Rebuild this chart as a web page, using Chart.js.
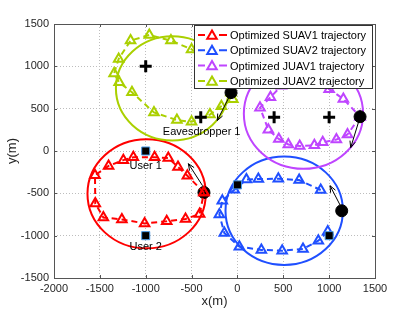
<!DOCTYPE html>
<html><head><meta charset="utf-8">
<script src="https://cdn.jsdelivr.net/npm/chart.js@4/dist/chart.umd.min.js"></script>
<style>html,body{margin:0;padding:0;background:#fff;}#wrap{width:415px;height:312px;position:relative;}</style>
</head><body><div id="wrap"><canvas id="c"></canvas></div>
<script>
// ---- data ----
const seriesNames = ['Optimized SUAV1 trajectory','Optimized SUAV2 trajectory','Optimized JUAV1 trajectory','Optimized JUAV2 trajectory'];
const seriesColors = ['#ff0000','#1f4fff','#bf45ff','#aad000'];

const suav1X = [-365,-546,-648,-754,-903,-1135,-1244,-1405,-1553,-1550,-1462,-1260,-1012,-771,-566,-412,-365];
const suav1Y = [-490,-292,-188,-83,-75,-75,-108,-176,-286,-620,-785,-808,-855,-830,-802,-745,-490];
const suav2X = [908,673,446,228,98,-35,-165,-197,-143,21,261,488,715,882,985];
const suav2Y = [-461,-343,-328,-331,-337,-459,-588,-751,-968,-1130,-1168,-1178,-1158,-1060,-950];
const juav1X = [1337,1200,1079,930,839,679,555,451,337,246,360,480,650,870,1000,1155,1337];
const juav1Y = [405,195,135,102,67,58,77,142,250,512,634,770,800,790,730,615,405];
const juav2X = [-70,-50,-175,-300,-500,-660,-910,-1150,-1290,-1345,-1295,-1165,-961,-725,-500,-300,-150,-70];
const juav2Y = [690,610,530,430,345,365,455,693,811,915,1088,1304,1370,1304,1200,1080,900,690];

const startX = [-365,1137,1337,-70];
const startY = [-490,-706,405,690];
const userX = [-1000,-1000,0,1000];
const userY = [0,-1000,-400,-1000];
const eveX = [-1000,-400,400,1000];
const eveY = [1000,400,400,400];

const circleCX = [-990,510,720,-710];
const circleCY = [-505,-705,440,740];
const circleR = [645,640,650,615];

const arrowFromX = [-380,1120,1320,-85];
const arrowFromY = [-410,-640,340,650];
const arrowToX = [-535,1010,1235,-220];
const arrowToY = [-150,-410,40,360];

const noteText = ['User 1','User 2','Eavesdropper 1'];
const noteX = [-1000,-1000,-390];
const noteY = [-175,-1130,220];

const xTicks = [-2000,-1500,-1000,-500,0,500,1000,1500];
const yTicks = [-1500,-1000,-500,0,500,1000,1500];

const FONT = "'Liberation Sans', Arial, sans-serif";
const pts = (xs, ys) => xs.map((v, i) => ({x: v, y: ys[i]}));

function traj(i, xs, ys, order) {
  return {
    label: seriesNames[i], data: pts(xs, ys), showLine: true, order: order,
    borderColor: seriesColors[i], borderWidth: 2, borderDash: [6, 4],
    pointStyle: 'triangle', pointRadius: 5.5, pointBorderWidth: 2,
    pointBorderColor: seriesColors[i], pointBackgroundColor: 'rgba(255,255,255,0)'
  };
}

function drawTri(ctx, x, y, r) {
  ctx.beginPath();
  for (let k = 0; k < 3; k++) {
    const a = k * 2 * Math.PI / 3;
    const px = x + Math.sin(a) * r, py = y - Math.cos(a) * r;
    if (k === 0) ctx.moveTo(px, py); else ctx.lineTo(px, py);
  }
  ctx.closePath();
  ctx.stroke();
}

const overlay = {
  id: 'overlay',
  beforeDatasetsDraw(chart) {
    const {ctx, scales: {x, y}} = chart;
    ctx.save();
    for (let i = 0; i < circleCX.length; i++) {
      const cx = x.getPixelForValue(circleCX[i]), cy = y.getPixelForValue(circleCY[i]);
      const rx = Math.abs(x.getPixelForValue(circleCX[i] + circleR[i]) - cx);
      const ry = Math.abs(y.getPixelForValue(circleCY[i] + circleR[i]) - cy);
      ctx.beginPath();
      ctx.ellipse(cx, cy, rx, ry, 0, 0, Math.PI * 2);
      ctx.strokeStyle = seriesColors[i];
      ctx.lineWidth = 2;
      ctx.stroke();
    }
    ctx.restore();
  },
  afterDraw(chart) {
    const {ctx, chartArea: ca, scales: {x, y}} = chart;
    ctx.save();
    // arrows
    ctx.strokeStyle = '#000'; ctx.lineWidth = 1;
    for (let i = 0; i < arrowFromX.length; i++) {
      const x1 = x.getPixelForValue(arrowFromX[i]), y1 = y.getPixelForValue(arrowFromY[i]);
      const x2 = x.getPixelForValue(arrowToX[i]), y2 = y.getPixelForValue(arrowToY[i]);
      ctx.beginPath(); ctx.moveTo(x1, y1); ctx.lineTo(x2, y2); ctx.stroke();
      const a = Math.atan2(y2 - y1, x2 - x1), L = 7, s = 0.4;
      ctx.beginPath();
      ctx.moveTo(x2 - L * Math.cos(a - s), y2 - L * Math.sin(a - s));
      ctx.lineTo(x2, y2);
      ctx.lineTo(x2 - L * Math.cos(a + s), y2 - L * Math.sin(a + s));
      ctx.stroke();
    }
    // notes
    ctx.fillStyle = '#000'; ctx.font = '11px ' + FONT; ctx.textAlign = 'center'; ctx.textBaseline = 'middle';
    for (let i = 0; i < noteText.length; i++) {
      ctx.fillText(noteText[i], x.getPixelForValue(noteX[i]), y.getPixelForValue(noteY[i]));
    }
    // box + inward ticks
    ctx.strokeStyle = '#555'; ctx.lineWidth = 1;
    ctx.strokeRect(Math.round(ca.left) + 0.5, Math.round(ca.top) + 0.5, Math.round(ca.right - ca.left), Math.round(ca.bottom - ca.top));
    ctx.beginPath();
    xTicks.forEach(v => {
      const p = Math.round(x.getPixelForValue(v)) + 0.5;
      ctx.moveTo(p, ca.bottom); ctx.lineTo(p, ca.bottom - 3);
      ctx.moveTo(p, ca.top); ctx.lineTo(p, ca.top + 3);
    });
    yTicks.forEach(v => {
      const p = Math.round(y.getPixelForValue(v)) + 0.5;
      ctx.moveTo(ca.left, p); ctx.lineTo(ca.left + 3, p);
      ctx.moveTo(ca.right, p); ctx.lineTo(ca.right - 3, p);
    });
    ctx.stroke();
    // legend
    ctx.font = '11px ' + FONT;
    let tw = 0;
    seriesNames.forEach(t => { tw = Math.max(tw, ctx.measureText(t).width); });
    const lw = Math.round(36 + tw + 6), lh = 63;
    const lx = Math.round(ca.right - 3 - lw), ly = Math.round(ca.top + 1);
    ctx.fillStyle = '#fff'; ctx.fillRect(lx, ly, lw, lh);
    ctx.strokeStyle = '#333'; ctx.lineWidth = 1; ctx.strokeRect(lx + 0.5, ly + 0.5, lw, lh);
    seriesNames.forEach((t, i) => {
      const ry = ly + 10 + i * 15.3;
      ctx.strokeStyle = seriesColors[i]; ctx.lineWidth = 2;
      ctx.beginPath();
      ctx.moveTo(lx + 4, ry); ctx.lineTo(lx + 11, ry);
      ctx.moveTo(lx + 25, ry); ctx.lineTo(lx + 33, ry);
      ctx.stroke();
      drawTri(ctx, lx + 18, ry + 1, 5.5);
      ctx.fillStyle = '#000'; ctx.textAlign = 'left'; ctx.textBaseline = 'middle';
      ctx.fillText(t, lx + 36, ry + 1);
    });
    ctx.restore();
  }
};

new Chart(document.getElementById('c'), {
  type: 'scatter',
  data: {
    datasets: [
      traj(0, suav1X, suav1Y, 0),
      traj(1, suav2X, suav2Y, 2),
      traj(2, juav1X, juav1Y, 2),
      traj(3, juav2X, juav2Y, 2),
      { label: 'start', data: pts(startX, startY), order: 1, pointStyle: 'circle', pointRadius: 6,
        pointBackgroundColor: '#000', pointBorderColor: '#000', pointBorderWidth: 1 },
      { label: 'users', data: pts(userX, userY), order: 1, pointStyle: 'rect', pointRadius: 5.7,
        pointBackgroundColor: '#000', pointBorderColor: '#4a9be8', pointBorderWidth: 1 },
      { label: 'eavesdroppers', data: pts(eveX, eveY), order: 1, pointStyle: 'cross', pointRadius: 6,
        pointBorderColor: '#000', pointBorderWidth: 3 }
    ]
  },
  options: {
    responsive: true, maintainAspectRatio: false, animation: false, devicePixelRatio: 1,
    layout: { padding: { left: 0, top: 24, right: 40, bottom: 0 } },
    plugins: { legend: { display: false }, tooltip: { enabled: false } },
    scales: {
      x: {
        type: 'linear', min: -2000, max: 1500,
        afterBuildTicks: s => { s.ticks = xTicks.map(v => ({value: v})); },
        afterFit: s => { s.height = 34; },
        ticks: { color: '#262626', font: { family: FONT, size: 11 }, padding: 4, maxRotation: 0,
                 callback: v => String(v) },
        grid: { color: '#bdbdbd', drawTicks: false, lineWidth: 1 },
        border: { display: false, dash: [1, 2] },
        title: { display: true, text: 'x(m)', color: '#262626', font: { family: FONT, size: 13 }, padding: { top: 0, bottom: 3 } }
      },
      y: {
        type: 'linear', min: -1500, max: 1500,
        afterBuildTicks: s => { s.ticks = yTicks.map(v => ({value: v})); },
        afterFit: s => { s.width = 54; },
        ticks: { color: '#262626', font: { family: FONT, size: 11 }, padding: 5,
                 callback: v => String(v) },
        grid: { color: '#bdbdbd', drawTicks: false, lineWidth: 1 },
        border: { display: false, dash: [1, 2] },
        title: { display: true, text: 'y(m)', color: '#262626', font: { family: FONT, size: 13 }, padding: { top: 5, bottom: 0 } }
      }
    }
  },
  plugins: [overlay]
});
</script></body></html>
